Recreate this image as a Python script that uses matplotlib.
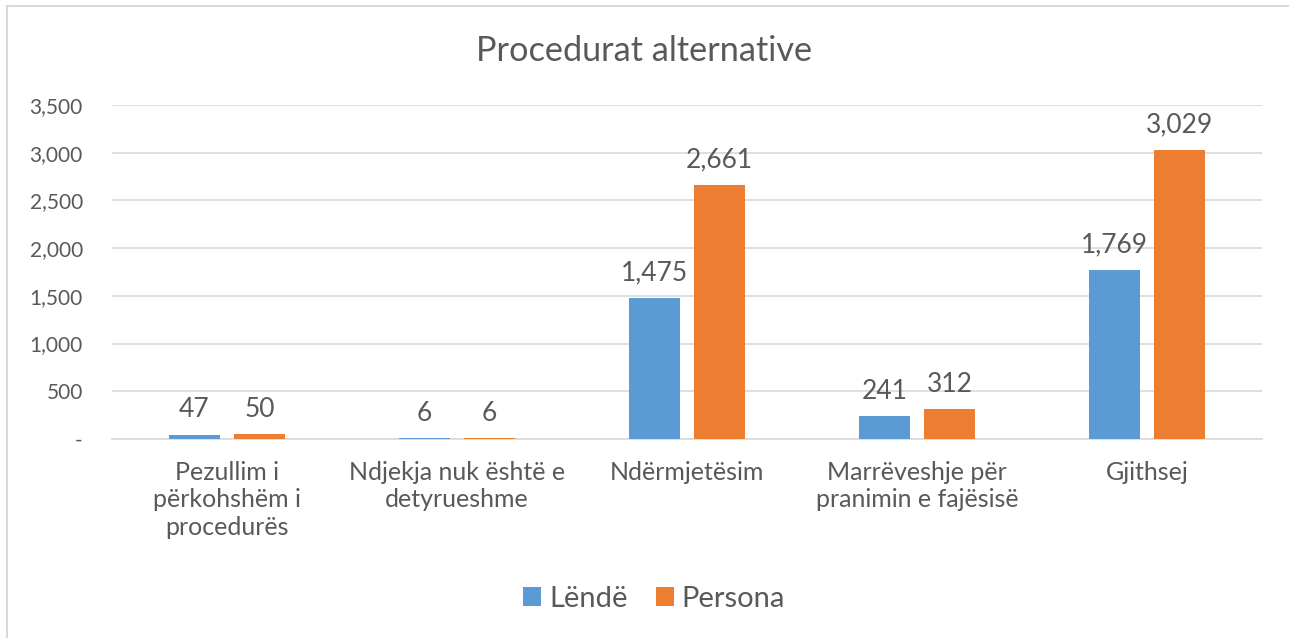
import matplotlib
matplotlib.use("Agg")
import matplotlib.pyplot as plt
from matplotlib.lines import Line2D
from matplotlib.ticker import FuncFormatter
import numpy as np

# Dati del grafico
categorie = [
    "Pezullim i\npërkohshëm i\nprocedurës",
    "Ndjekja nuk është e\ndetyrueshme",
    "Ndërmjetësim",
    "Marrëveshje për\npranimin e fajësisë",
    "Gjithsej",
]
lende = [47, 6, 1475, 241, 1769]
persona = [50, 6, 2661, 312, 3029]
serie = ["Lëndë", "Persona"]

BLU = "#5B9BD5"
ARANCIO = "#ED7D31"
TESTO = "#595959"
GRIGLIA = "#D9D9D9"

plt.rcParams["font.family"] = ["Lato", "DejaVu Sans"]

fig = plt.figure(figsize=(12.89, 6.38), dpi=100)
ax = fig.add_axes([112 / 1289, 1 - 439 / 638, (1262 - 112) / 1289, (439 - 105) / 638])

x = np.arange(len(categorie))
w = 0.222
off = 0.1413
b1 = ax.bar(x - off, lende, w, color=BLU, label=serie[0], zorder=3)
b2 = ax.bar(x + off, persona, w, color=ARANCIO, label=serie[1], zorder=3)

for bars in (b1, b2):
    for r in bars:
        v = r.get_height()
        ax.annotate(f"{v:,.0f}", (r.get_x() + r.get_width() / 2, v),
                    xytext=(0, 9), textcoords="offset points",
                    ha="center", va="bottom", fontsize=19, color=TESTO)

ax.set_xlim(-0.5, len(categorie) - 0.5)
ax.set_ylim(0, 3500)
ax.set_yticks(np.arange(0, 3501, 500))
ax.yaxis.set_major_formatter(FuncFormatter(lambda v, p: "-" if v == 0 else f"{v:,.0f}"))
ax.grid(axis="y", color=GRIGLIA, linewidth=1.2, zorder=0)
ax.set_xticks(x)
ax.set_xticklabels(categorie, fontsize=18, color=TESTO, linespacing=1.22, va="top")
ax.tick_params(axis="x", length=0, pad=16)
ax.tick_params(axis="y", length=0, pad=21, labelsize=15, labelcolor=TESTO)
for s in ["top", "right", "left"]:
    ax.spines[s].set_visible(False)
ax.spines["bottom"].set_color(GRIGLIA)
ax.spines["bottom"].set_linewidth(1.2)

fig.text(0.5, 1 - 51 / 638, "Procedurat alternative", ha="center", va="center",
         fontsize=24.7, color=TESTO)

fig.legend(loc="center", bbox_to_anchor=(654 / 1289, 1 - 599 / 638), ncol=2,
           frameon=False, fontsize=21, labelcolor=TESTO, handlelength=0.62,
           handleheight=0.62, handletextpad=0.27, columnspacing=0.96)

# Bordo del grafico (solo lati sinistro e superiore visibili)
fig.add_artist(Line2D([7 / 1289, 7 / 1289], [0, 1 - 6 / 638], transform=fig.transFigure,
                      color=GRIGLIA, linewidth=1.5))
fig.add_artist(Line2D([7 / 1289, 1], [1 - 6 / 638, 1 - 6 / 638], transform=fig.transFigure,
                      color=GRIGLIA, linewidth=1.5))

fig.savefig("out.png", dpi=100, facecolor="white")
